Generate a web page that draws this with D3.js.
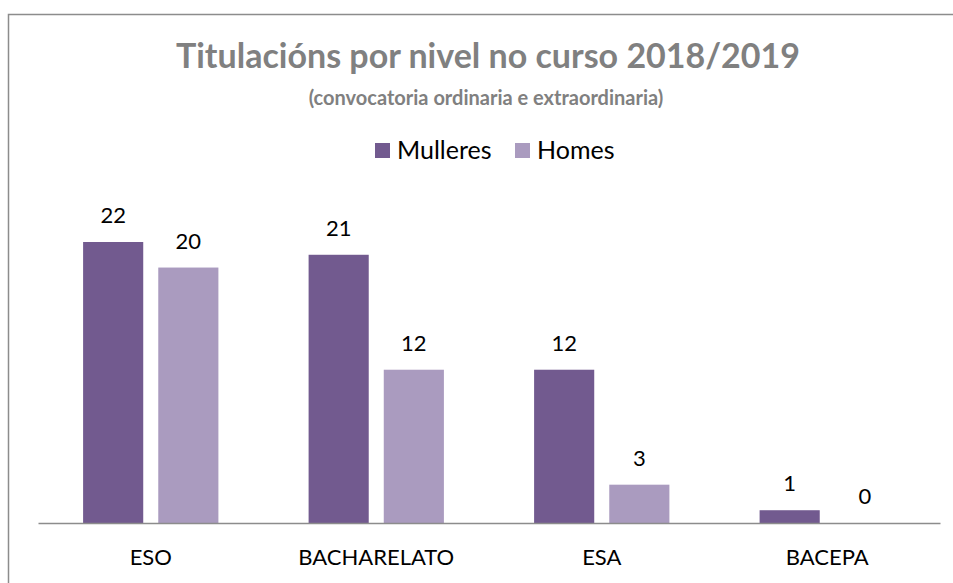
<!DOCTYPE html>
<html>
<head>
<meta charset="utf-8">
<script src="https://cdn.jsdelivr.net/npm/d3@7"></script>
<style>
  body { margin: 0; background: #fff; overflow: hidden; }
  svg { display: block; }
  text { font-family: Lato, "Open Sans", sans-serif; }
</style>
</head>
<body>
<div id="chart"></div>
<script>
var categories = ["ESO", "BACHARELATO", "ESA", "BACEPA"];
var seriesNames = ["Mulleres", "Homes"];
var mulleres = [22, 21, 12, 1];
var homes = [20, 12, 3, 0];
var colors = ["#725a8f", "#aa9bbf"];

var width = 953, height = 583;
var margin = {left: 38, right: 13};
var baseY = 523;

var svg = d3.select("#chart").append("svg")
    .attr("width", width)
    .attr("height", height);

// chart frame: only the top and left edges are inside the picture
svg.append("path")
    .attr("d", "M8.5," + height + "V14.5H" + width)
    .attr("fill", "none")
    .attr("stroke", "#8c8c8c")
    .attr("stroke-width", 1.5);

var x0 = d3.scaleBand()
    .domain(categories)
    .range([margin.left, width - margin.right]);

var x1 = d3.scaleBand()
    .domain(seriesNames)
    .range([0, x0.bandwidth()])
    .paddingInner(0.2)
    .paddingOuter(0.6);

var y = d3.scaleLinear()
    .domain([0, 22])
    .range([baseY, 242]);

var rows = categories.map(function(c, i) {
    return {cat: c, vals: [mulleres[i], homes[i]]};
});

var groups = svg.selectAll("g.cat").data(rows).enter().append("g")
    .attr("class", "cat")
    .attr("transform", function(d) { return "translate(" + x0(d.cat) + ",0)"; });

groups.selectAll("rect").data(function(d) {
        return d.vals.map(function(v, j) { return {name: seriesNames[j], value: v, j: j}; });
    }).enter().append("rect")
    .attr("x", function(d) { return x1(d.name); })
    .attr("y", function(d) { return y(d.value); })
    .attr("width", x1.bandwidth())
    .attr("height", function(d) { return baseY - y(d.value); })
    .attr("fill", function(d) { return colors[d.j]; });

groups.selectAll("text.val").data(function(d) {
        return d.vals.map(function(v, j) { return {name: seriesNames[j], value: v}; });
    }).enter().append("text")
    .attr("class", "val")
    .attr("x", function(d) { return x1(d.name) + x1.bandwidth() / 2; })
    .attr("y", function(d) { return y(d.value) - 19; })
    .attr("text-anchor", "middle")
    .attr("font-size", 22)
    .attr("fill", "#000")
    .text(function(d) { return d.value; });

// axis
var xAxis = d3.axisBottom(x0).tickSize(0).tickPadding(26);
var ax = svg.append("g")
    .attr("transform", "translate(0," + baseY + ")")
    .call(xAxis);
ax.select(".domain").attr("stroke", "#8c8c8c").attr("stroke-width", 1.5);
ax.selectAll("text")
    .attr("font-size", 22)
    .attr("font-family", "Lato, 'Open Sans', sans-serif")
    .attr("fill", "#000");

// titles
svg.append("text")
    .attr("x", 488).attr("y", 68)
    .attr("text-anchor", "middle")
    .attr("font-size", 34)
    .attr("font-weight", "bold")
    .attr("fill", "#808080")
    .text("Titulacións por nivel no curso 2018/2019");

svg.append("text")
    .attr("x", 486).attr("y", 105)
    .attr("text-anchor", "middle")
    .attr("font-size", 20)
    .attr("font-weight", "bold")
    .attr("fill", "#808080")
    .text("(convocatoria ordinaria e extraordinaria)");

// legend
var legendX = [375, 515];
var leg = svg.selectAll("g.leg").data(seriesNames).enter().append("g")
    .attr("class", "leg")
    .attr("transform", function(d, i) { return "translate(" + legendX[i] + ",143)"; });
leg.append("rect")
    .attr("width", 15).attr("height", 15)
    .attr("fill", function(d, i) { return colors[i]; });
leg.append("text")
    .attr("x", 22).attr("y", 16)
    .attr("font-size", 25)
    .attr("fill", "#000")
    .text(function(d) { return d; });
</script>
</body>
</html>
